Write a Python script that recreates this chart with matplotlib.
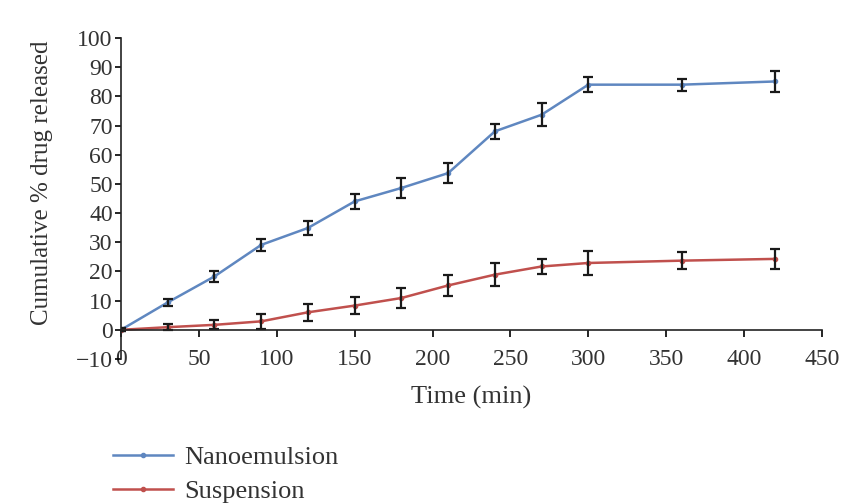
import matplotlib.pyplot as plt
import numpy as np

plt.rcParams['font.family'] = ['Liberation Serif', 'DejaVu Serif']

# data
time_min = [0, 30, 60, 90, 120, 150, 180, 210, 240, 270, 300, 360, 420]
nano = [0, 9.4, 18.3, 29.1, 34.9, 44.0, 48.6, 53.7, 68.0, 73.7, 84.0, 84.0, 85.1]
nano_err = [0.5, 1.2, 2.0, 2.0, 2.5, 2.5, 3.5, 3.5, 2.5, 4.0, 2.5, 2.0, 3.5]
susp = [0, 0.9, 1.7, 2.9, 6.0, 8.3, 10.9, 15.2, 18.9, 21.7, 22.9, 23.7, 24.3]
susp_err = [0.5, 1.0, 1.5, 2.5, 3.0, 3.0, 3.5, 3.5, 4.0, 2.5, 4.0, 3.0, 3.5]

x_ticks = [0, 50, 100, 150, 200, 250, 300, 350, 400, 450]
y_ticks = [-10, 0, 10, 20, 30, 40, 50, 60, 70, 80, 90, 100]

text_col = '#333333'

fig = plt.figure(figsize=(8.41, 5.03), dpi=100)
ax = fig.add_axes([0.1439, 0.2863, 0.8335, 0.6382])

l1, = ax.plot(time_min, nano, color='#5f87c0', lw=1.8, marker='o', ms=3,
              label='Nanoemulsion')
l2, = ax.plot(time_min, susp, color='#c0504d', lw=1.8, marker='o', ms=3,
              label='Suspension')
ax.errorbar(time_min, nano, yerr=nano_err, fmt='none', ecolor='#1a1a1a',
            elinewidth=1.6, capsize=3.5, capthick=1.6)
ax.errorbar(time_min, susp, yerr=susp_err, fmt='none', ecolor='#1a1a1a',
            elinewidth=1.6, capsize=3.5, capthick=1.6)

ax.set_xlim(0, 450)
ax.set_ylim(-10, 100)
ax.set_xticks(x_ticks)
ax.set_yticks(y_ticks)
ax.set_yticklabels(['\u221210'] + [str(v) for v in y_ticks[1:]])

ax.spines['top'].set_visible(False)
ax.spines['right'].set_visible(False)
ax.spines['bottom'].set_position(('data', 0))
for s in ['left', 'bottom']:
    ax.spines[s].set_color('#222222')
    ax.spines[s].set_linewidth(1.2)

ax.tick_params(axis='y', direction='out', length=4, width=1.2,
               labelsize=17, labelcolor=text_col, pad=2)
ax.tick_params(axis='x', direction='out', length=5, width=1.2,
               labelsize=17, labelcolor=text_col, pad=9)

ax.set_xlabel('Time (min)', fontsize=19, color=text_col)
ax.xaxis.set_label_coords(0.5, -0.085)
ax.set_ylabel('Cumulative % drug released', fontsize=18, color=text_col)
ax.yaxis.set_label_coords(-0.097, 0.55)

fig.legend(handles=[l1, l2], loc='lower left', bbox_to_anchor=(0.134, 0.0),
           frameon=False, fontsize=19, handlelength=2.3, labelspacing=0.4,
           borderpad=0, borderaxespad=0, handletextpad=0.4,
           labelcolor=text_col)

fig.savefig('out.png', dpi=100)
